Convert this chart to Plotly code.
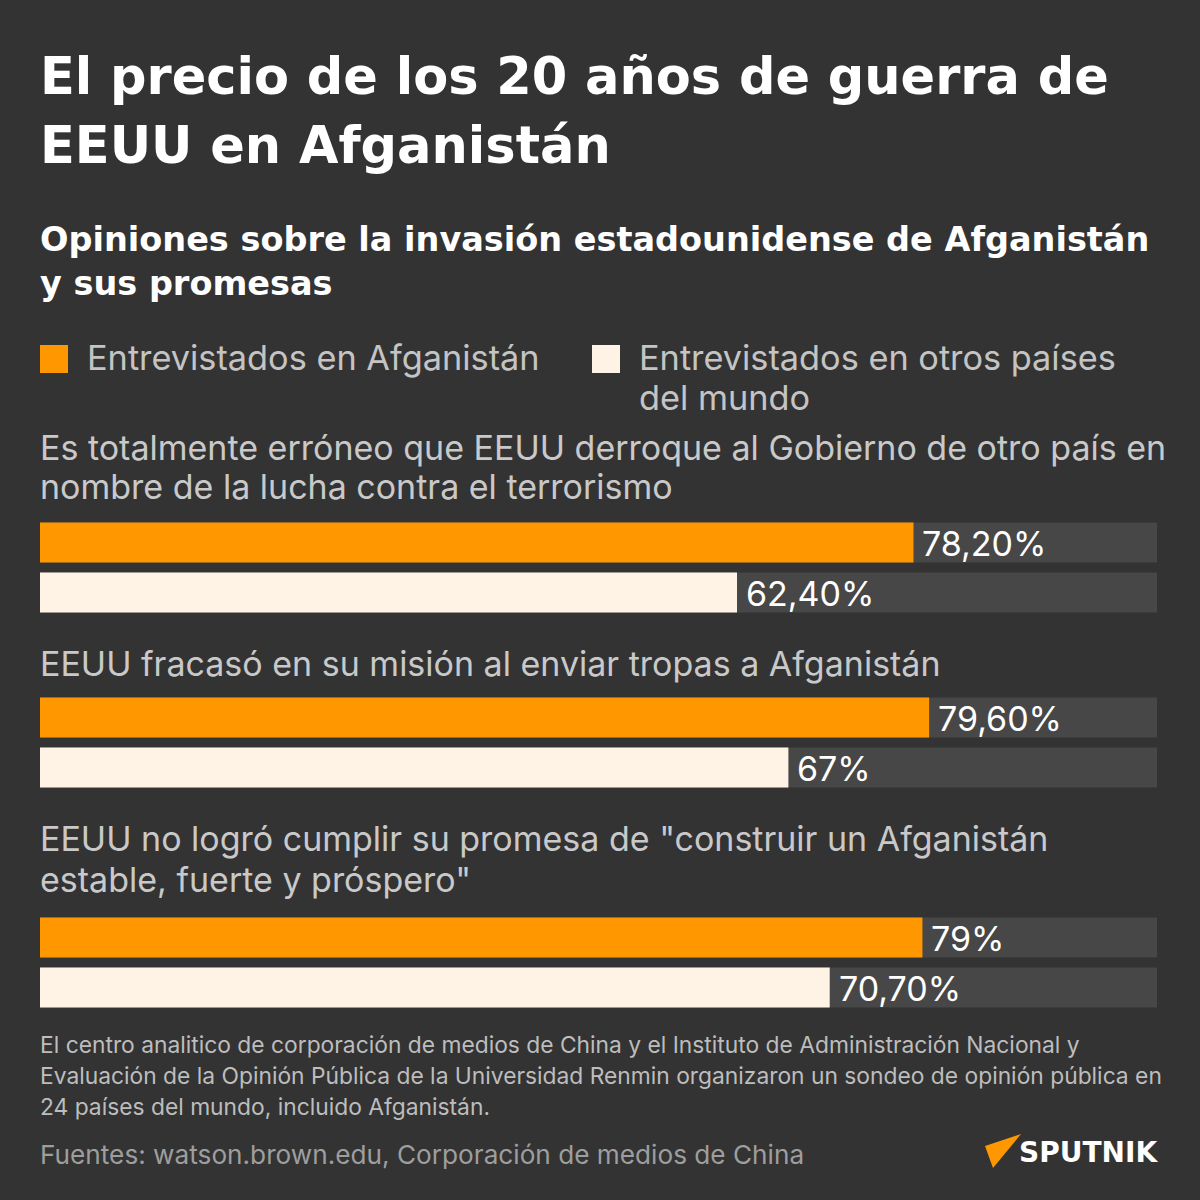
import plotly.graph_objects as go

# ---------------- data ----------------
questions = [
    ["Es totalmente erróneo que EEUU derroque al Gobierno de otro país en",
     "nombre de la lucha contra el terrorismo"],
    ["EEUU fracasó en su misión al enviar tropas a Afganistán"],
    ["EEUU no logró cumplir su promesa de \"construir un Afganistán",
     "estable, fuerte y próspero\""],
]
groups = ["Entrevistados en Afganistán", "Entrevistados en otros países del mundo"]
afganistan = [78.2, 79.6, 79.0]
otros = [62.4, 67.0, 70.7]

title_lines = ["El precio de los 20 años de guerra de", "EEUU en Afganistán"]
subtitle_lines = ["Opiniones sobre la invasión estadounidense de Afganistán", "y sus promesas"]
note_lines = [
    "El centro analitico de corporación de medios de China y el Instituto de Administración Nacional y",
    "Evaluación de la Opinión Pública de la Universidad Renmin organizaron un sondeo de opinión pública en",
    "24 países del mundo, incluido Afganistán.",
]
source_text = "Fuentes: watson.brown.edu, Corporación de medios de China"

# ---------------- style ----------------
BG = "#333333"
TRACK = "#474747"
ORANGE = "#FF9800"
CREAM = "#FFF3E6"
W = H = 1200
BODY = "Inter"
HEAD = "DejaVu Sans"


def px(x):
    return x / W


def py(y):
    return 1 - y / H


def fmt(v):
    if abs(v - round(v)) < 1e-9:
        return f"{int(round(v))}%"
    return f"{v:.2f}".replace(".", ",") + "%"


# (top, bottom) pixel extents of each pair of bars
bar_blocks = [(523, 612), (698, 787), (918, 1007)]
question_line_y = [[447, 487], [663], [838, 880]]

fig = go.Figure()
annotations = []
shapes = []
cats = ["a", "b"]

for i, (top, bot) in enumerate(bar_blocks):
    n = "" if i == 0 else str(i + 1)
    xa, ya = "x" + n, "y" + n
    fig.add_trace(go.Bar(x=[100, 100], y=cats, orientation="h", marker_color=TRACK,
                         marker_line_width=0, width=0.8, xaxis=xa, yaxis=ya,
                         showlegend=False, hoverinfo="skip"))
    fig.add_trace(go.Bar(x=[afganistan[i], otros[i]], y=cats, orientation="h",
                         marker_color=[ORANGE, CREAM], marker_line_width=0, width=0.8,
                         xaxis=xa, yaxis=ya, showlegend=False,
                         hovertemplate="%{x}<extra></extra>"))
    for v, c in zip([afganistan[i], otros[i]], cats):
        annotations.append(dict(x=v, y=c, xref=xa, yref=ya, text=fmt(v), showarrow=False,
                                xanchor="left", yanchor="middle", xshift=7, yshift=-1,
                                font=dict(family=BODY, size=34, color="#FFFFFF")))
    fig.layout["xaxis" + n] = dict(domain=[px(40), px(1157)], range=[0, 100], visible=False,
                                    anchor=ya, fixedrange=True)
    fig.layout["yaxis" + n] = dict(domain=[py(bot + 5.5), py(top - 5.5)], type="category",
                                    categoryorder="array", categoryarray=cats,
                                    range=[1.5, -0.5], visible=False, anchor=xa, fixedrange=True)
    for line, yy in zip(questions[i], question_line_y[i]):
        annotations.append(dict(x=px(38), y=py(yy), xref="paper", yref="paper", text=line,
                                showarrow=False, xanchor="left", yanchor="middle",
                                font=dict(family=BODY, size=34, color="#C9C9C9")))


def text(x, y, s, size, color, family=BODY, bold=False):
    annotations.append(dict(x=px(x), y=py(y), xref="paper", yref="paper",
                            text=f"<b>{s}</b>" if bold else s, showarrow=False,
                            xanchor="left", yanchor="middle",
                            font=dict(family=family, size=size, color=color)))


# title & subtitle
for s, yy in zip(title_lines, [76, 145]):
    text(38, yy, s, 51, "#FFFFFF", HEAD, True)
for s, yy in zip(subtitle_lines, [239, 283]):
    text(38, yy, s, 33.5, "#FFFFFF", HEAD, True)

# legend
shapes.append(dict(type="rect", xref="paper", yref="paper", x0=px(40), x1=px(68),
                   y0=py(373), y1=py(345), fillcolor=ORANGE, line_width=0))
shapes.append(dict(type="rect", xref="paper", yref="paper", x0=px(592), x1=px(620),
                   y0=py(373), y1=py(345), fillcolor=CREAM, line_width=0))
text(85, 357, groups[0], 34.3, "#C4C4C4")
text(637, 357, "Entrevistados en otros países", 34.3, "#C4C4C4")
text(637, 397, "del mundo", 34.3, "#C4C4C4")

# notes
for s, yy in zip(note_lines, [1044, 1075, 1106]):
    text(38, yy, s, 22.8, "#BDBDBD")
text(38, 1154, source_text, 26.2, "#9E9E9E")

# logo
shapes.append(dict(type="path", xref="paper", yref="paper",
                   path=f"M {px(985)} {py(1146)} L {px(1021)} {py(1134)} L {px(993)} {py(1168)} Z",
                   fillcolor=ORANGE, line_width=0))
text(1017, 1152, "SPUTNIK", 28, "#FFFFFF", HEAD, True)

fig.update_layout(width=W, height=H, margin=dict(l=0, r=0, t=0, b=0),
                  paper_bgcolor=BG, plot_bgcolor=BG, barmode="overlay",
                  annotations=annotations, shapes=shapes, showlegend=False)

fig.write_html("out.html", config={"displayModeBar": False},
               post_script="document.body.style.margin='0';document.body.style.overflow='hidden';")
